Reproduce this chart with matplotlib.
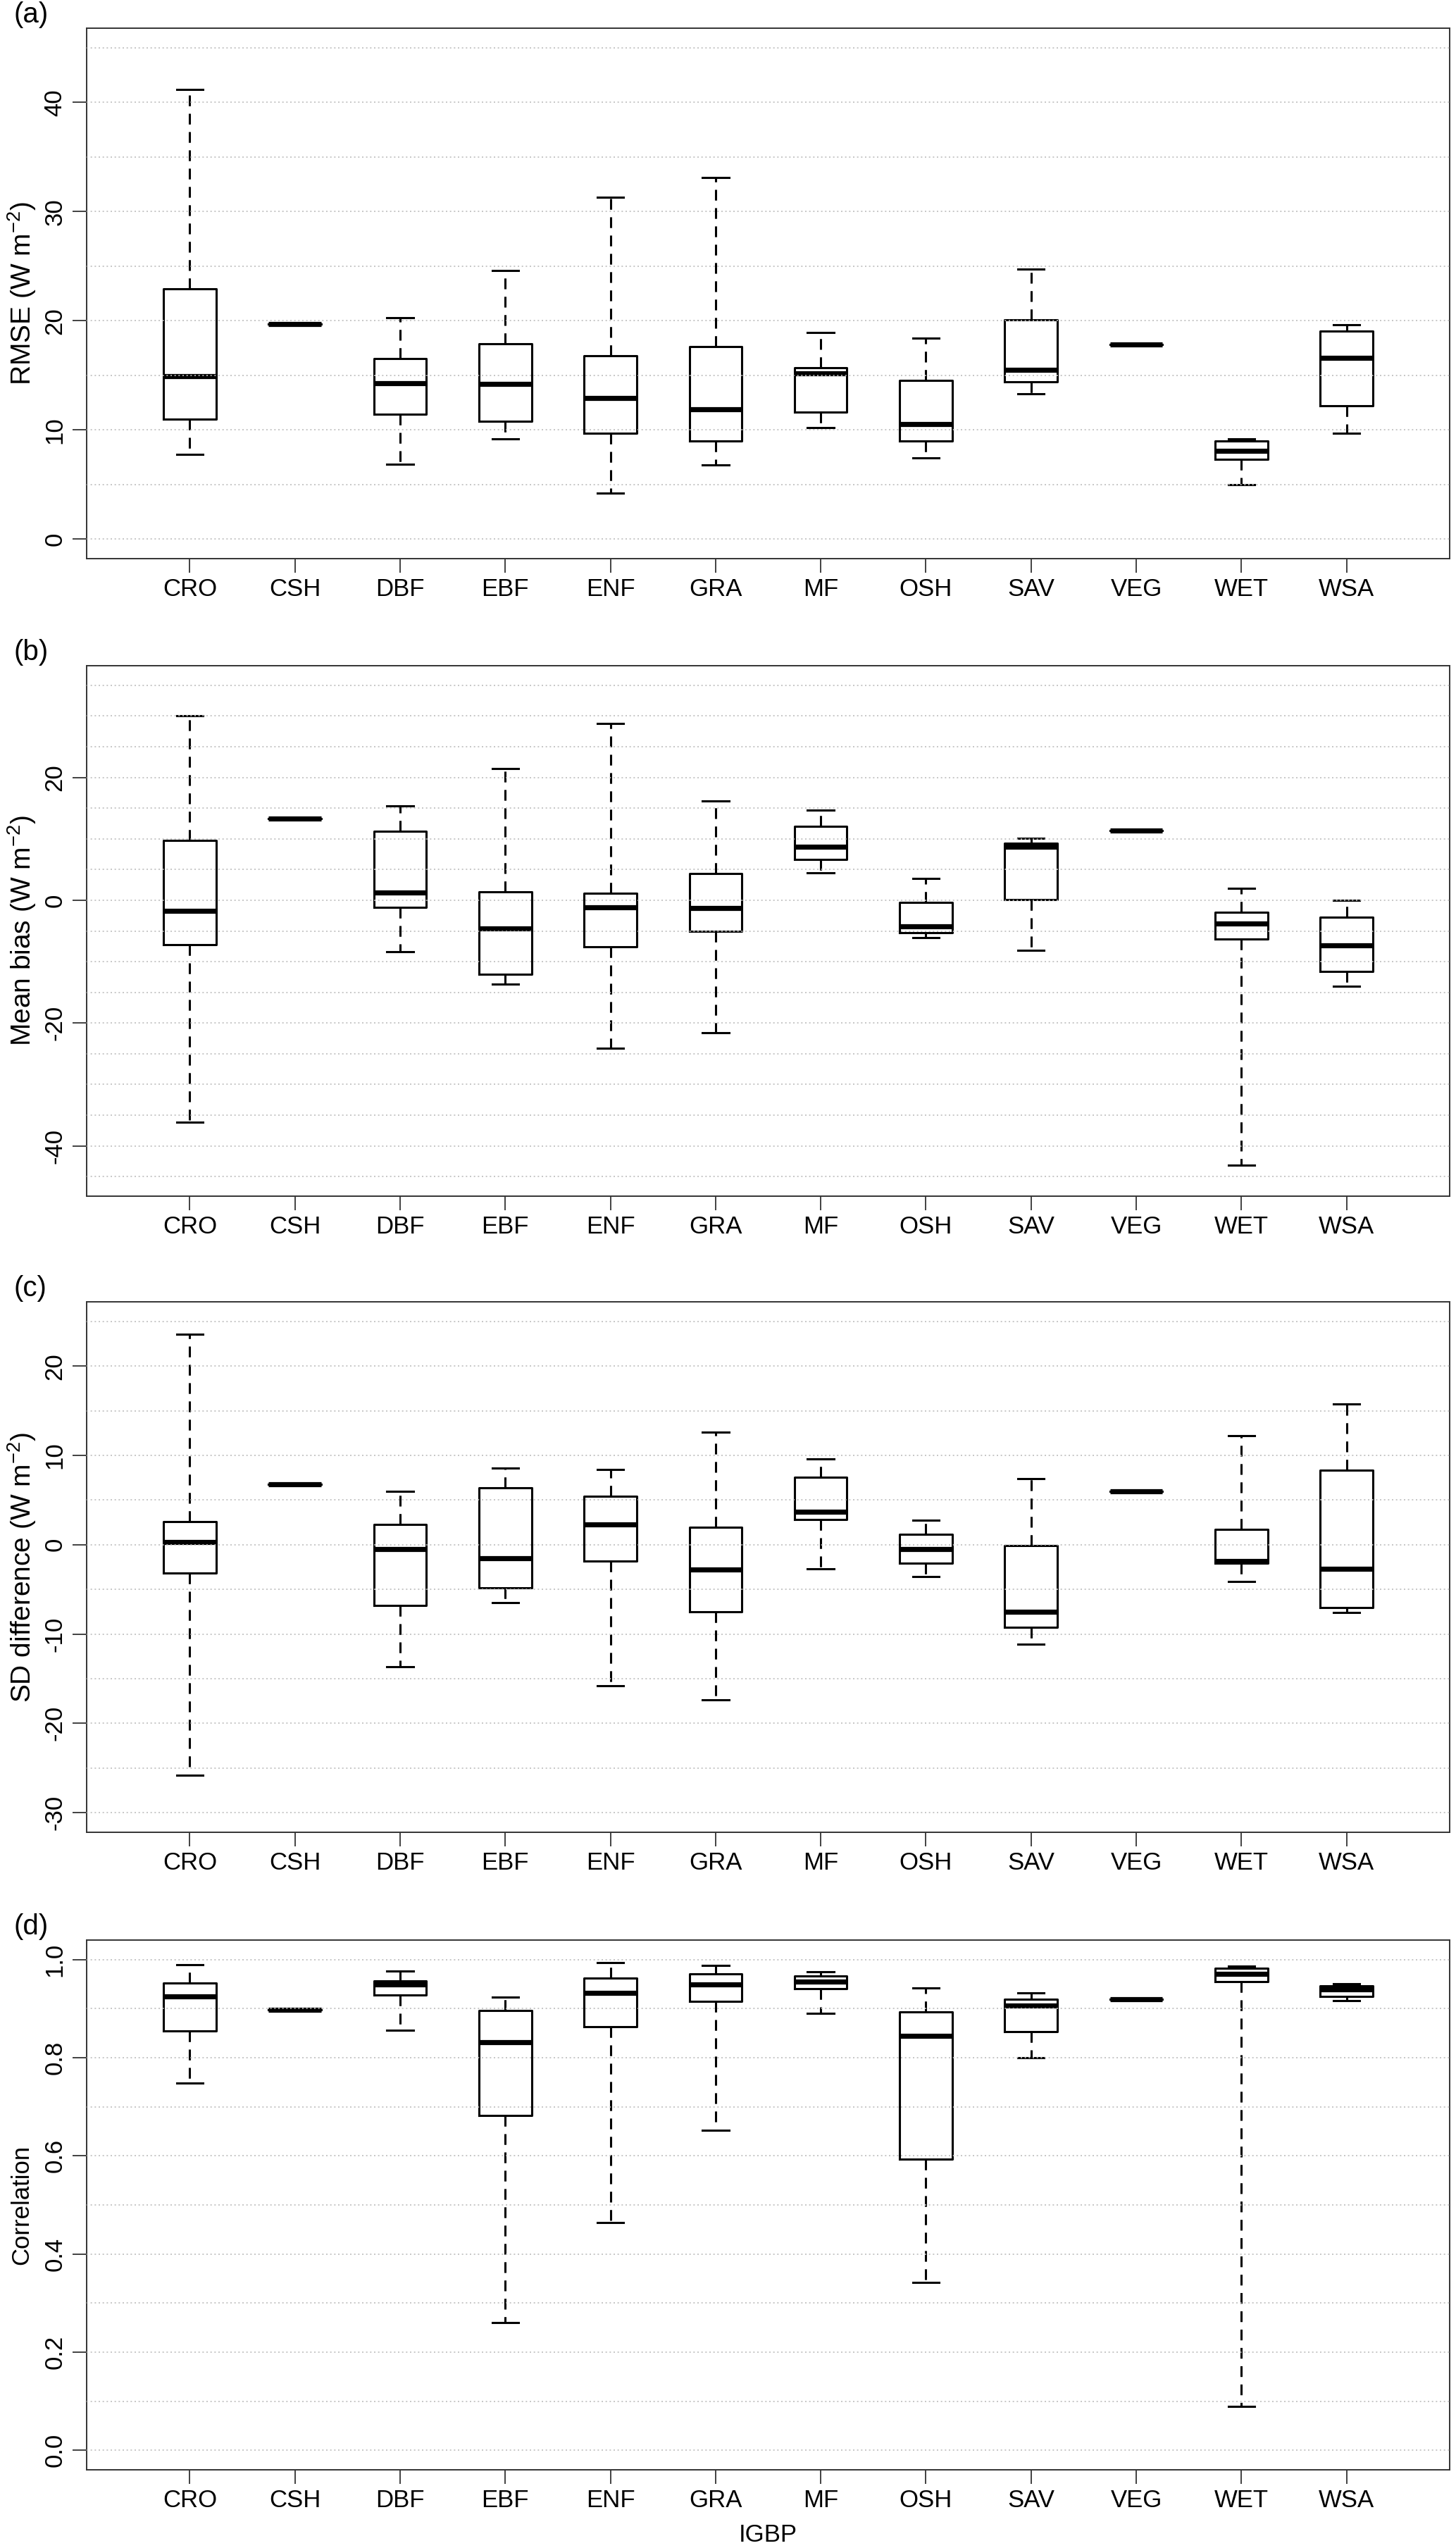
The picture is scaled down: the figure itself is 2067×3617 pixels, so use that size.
import matplotlib
matplotlib.use("Agg")
import matplotlib.pyplot as plt

plt.rcParams['font.family'] = ['Liberation Sans', 'DejaVu Sans']
plt.rcParams['mathtext.fontset'] = 'custom'
plt.rcParams['mathtext.rm'] = 'Liberation Sans'
plt.rcParams['mathtext.it'] = 'Liberation Sans:italic'
plt.rcParams['mathtext.bf'] = 'Liberation Sans:bold'
plt.rcParams['axes.unicode_minus'] = False

# ---------------- data ----------------
categories = ["CRO", "CSH", "DBF", "EBF", "ENF", "GRA", "MF", "OSH", "SAV", "VEG", "WET", "WSA"]

# (a) RMSE
rmse_whislo = [7.75, 19.7, 6.86, 9.2, 4.2, 6.8, 10.2, 7.4, 13.3, 17.8, 5.0, 9.7]
rmse_q1     = [10.95, 19.7, 11.4, 10.8, 9.7, 8.97, 11.6, 8.97, 14.4, 17.8, 7.3, 12.2]
rmse_med    = [14.9, 19.7, 14.3, 14.2, 12.9, 11.9, 15.2, 10.55, 15.5, 17.8, 8.06, 16.6]
rmse_q3     = [22.9, 19.7, 16.5, 17.9, 16.8, 17.6, 15.7, 14.5, 20.1, 17.8, 8.95, 19.05]
rmse_whishi = [41.2, 19.7, 20.3, 24.6, 31.3, 33.1, 18.9, 18.4, 24.7, 17.8, 9.14, 19.6]

# (b) Mean bias
bias_whislo = [-36.1, 13.3, -8.4, -13.7, -24.1, -21.6, 4.5, -6.1, -8.2, 11.4, -43.2, -14.0]
bias_q1     = [-7.24, 13.3, -1.18, -12.1, -7.6, -5.0, 6.7, -5.3, 0.13, 11.4, -6.3, -11.6]
bias_med    = [-1.78, 13.3, 1.25, -4.6, -1.1, -1.3, 8.7, -4.2, 8.75, 11.4, -3.8, -7.4]
bias_q3     = [9.8, 13.3, 11.25, 1.38, 1.18, 4.3, 12.0, -0.4, 9.3, 11.4, -2.0, -2.8]
bias_whishi = [30.1, 13.3, 15.4, 21.5, 28.75, 16.2, 14.7, 3.5, 10.1, 11.4, 1.9, 0.0]

# (c) SD difference
sd_whislo = [-25.8, 6.75, -13.7, -6.5, -15.8, -17.4, -2.67, -3.53, -11.1, 6.0, -4.12, -7.56]
sd_q1     = [-3.2, 6.75, -6.8, -4.85, -1.8, -7.5, 2.85, -2.04, -9.24, 6.0, -2.08, -7.02]
sd_med    = [0.32, 6.75, -0.45, -1.5, 2.3, -2.76, 3.67, -0.45, -7.52, 6.0, -1.8, -2.72]
sd_q3     = [2.58, 6.75, 2.26, 6.34, 5.4, 1.95, 7.57, 1.13, -0.09, 6.0, 1.72, 8.38]
sd_whishi = [23.55, 6.75, 6.0, 8.6, 8.4, 12.6, 9.6, 2.76, 7.38, 6.0, 12.2, 15.8]

# (d) Correlation
cor_whislo = [0.749, 0.898, 0.856, 0.26, 0.464, 0.652, 0.891, 0.342, 0.80, 0.919, 0.089, 0.917]
cor_q1     = [0.855, 0.898, 0.928, 0.683, 0.863, 0.915, 0.941, 0.593, 0.853, 0.919, 0.955, 0.925]
cor_med    = [0.925, 0.898, 0.950, 0.832, 0.933, 0.950, 0.955, 0.844, 0.906, 0.919, 0.971, 0.940]
cor_q3     = [0.952, 0.898, 0.956, 0.897, 0.962, 0.971, 0.967, 0.893, 0.919, 0.919, 0.983, 0.946]
cor_whishi = [0.990, 0.898, 0.977, 0.923, 0.994, 0.988, 0.975, 0.943, 0.932, 0.919, 0.987, 0.951]

# axis settings (limits / ticks / grid lines)
panel_letters = ["(a)", "(b)", "(c)", "(d)"]
y_labels = [r"RMSE (W m$^{-2}$)", r"Mean bias (W m$^{-2}$)", r"SD difference (W m$^{-2}$)", "Correlation"]
y_ranges = [(0, 45), (-45, 35), (-30, 25), (0, 1)]
y_ticks = [[0, 10, 20, 30, 40], [-40, -20, 0, 20], [-30, -20, -10, 0, 10, 20],
           [0.0, 0.2, 0.4, 0.6, 0.8, 1.0]]
y_ticklabels = [["0", "10", "20", "30", "40"], ["-40", "-20", "0", "20"],
                ["-30", "-20", "-10", "0", "10", "20"],
                ["0.0", "0.2", "0.4", "0.6", "0.8", "1.0"]]
grid_lines = [[0, 5, 10, 15, 20, 25, 30, 35, 40, 45],
              [-45, -40, -35, -30, -25, -20, -15, -10, -5, 0, 5, 10, 15, 20, 25, 30, 35],
              [-30, -25, -20, -15, -10, -5, 0, 5, 10, 15, 20, 25],
              [0.0, 0.1, 0.2, 0.3, 0.4, 0.5, 0.6, 0.7, 0.8, 0.9, 1.0]]
x_label = "IGBP"

panels = [
    (rmse_whislo, rmse_q1, rmse_med, rmse_q3, rmse_whishi),
    (bias_whislo, bias_q1, bias_med, bias_q3, bias_whishi),
    (sd_whislo, sd_q1, sd_med, sd_q3, sd_whishi),
    (cor_whislo, cor_q1, cor_med, cor_q3, cor_whishi),
]

# ---------------- layout ----------------
W, H = 2067, 3617
DPI = 100
fig = plt.figure(figsize=(W / DPI, H / DPI), dpi=DPI)
fig.patch.set_facecolor("white")

ax_left, ax_right = 123, 2058
panel_px = [(40, 793), (945, 1698), (1848, 2601), (2754, 3506)]
ylabel_sizes = [28, 28, 28, 25]

for i, (stats_src, (top, bot)) in enumerate(zip(panels, panel_px)):
    ax = fig.add_axes([ax_left / W, 1 - bot / H, (ax_right - ax_left) / W, (bot - top) / H])
    wlo, q1, med, q3, whi = stats_src
    stats = []
    for k, name in enumerate(categories):
        stats.append(dict(label=name, whislo=wlo[k], q1=q1[k], med=med[k], q3=q3[k],
                          whishi=whi[k], fliers=[]))
    ax.bxp(stats, positions=list(range(1, len(categories) + 1)), widths=0.5,
           capwidths=0.25, showfliers=False, patch_artist=False,
           boxprops=dict(color="black", linewidth=2.2),
           whiskerprops=dict(color="black", linewidth=2.2, linestyle=(0, (5, 3.5))),
           capprops=dict(color="black", linewidth=2.2),
           medianprops=dict(color="black", linewidth=5.2, solid_capstyle="butt"))

    lo, hi = y_ranges[i]
    pad = 0.04 * (hi - lo)
    ax.set_ylim(lo - pad, hi + pad)
    n = len(categories)
    ax.set_xlim(0.5 - 0.04 * n, n + 0.5 + 0.04 * n)

    for g in grid_lines[i]:
        ax.axhline(g, color="#BDBDBD", linewidth=1.2, linestyle=(0, (1.2, 2.2)), zorder=5)

    ax.set_yticks(y_ticks[i])
    ax.set_yticklabels(y_ticklabels[i], rotation=90, va="center", fontsize=25)
    ax.set_xticks(list(range(1, n + 1)))
    ax.set_xticklabels(categories, fontsize=25)
    ax.tick_params(axis="both", direction="out", length=14.4, width=1.3, color="#333333",
                   labelcolor="black")
    ax.tick_params(axis="y", pad=6)
    ax.tick_params(axis="x", pad=5)
    for sp in ax.spines.values():
        sp.set_color("#333333")
        sp.set_linewidth(1.4)

    ycen = 1 - (top + bot) / 2 / H
    fig.text(31 / W, ycen, y_labels[i], rotation=90, ha="center", va="center",
             fontsize=ylabel_sizes[i])
    fig.text(20 / W, 1 - (top - 19) / H, panel_letters[i], ha="left", va="center", fontsize=29)

fig.text((ax_left + ax_right) / 2 / W, 1 - 3598 / H, x_label, ha="center", va="center", fontsize=25)

fig.savefig("out.png", dpi=DPI, facecolor="white")
